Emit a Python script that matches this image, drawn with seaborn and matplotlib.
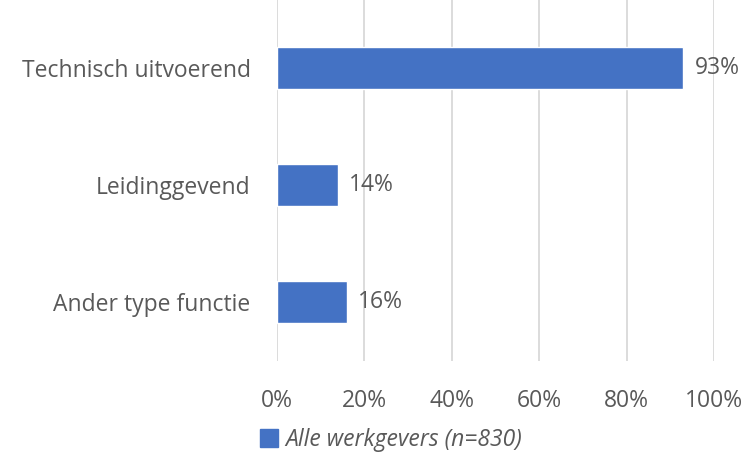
import matplotlib
matplotlib.use("Agg")
import matplotlib.pyplot as plt
import seaborn as sns
import pandas as pd
from matplotlib.patches import Patch
from matplotlib.ticker import FixedLocator

categories = ["Technisch uitvoerend", "Leidinggevend", "Ander type functie"]
values = [93, 14, 16]
value_labels = ["93%", "14%", "16%"]
xticks = [0, 20, 40, 60, 80, 100]
xtick_labels = ["0%", "20%", "40%", "60%", "80%", "100%"]
series_name = "Alle werkgevers (n=830)"

sns.set_theme(style="white")
plt.rcParams['font.family'] = ['Open Sans', 'DejaVu Sans']

blue = "#4472C4"
txt = "#595959"
fs = 16.5

df = pd.DataFrame({"cat": categories, "val": values})

fig = plt.figure(figsize=(7.52, 4.58), dpi=100)
ax = fig.add_axes([277/752, 1 - 361/458, (714-277)/752, 361/458])

sns.barplot(data=df, y="cat", x="val", orient="h", color=blue, width=0.36,
            saturation=1, ax=ax, zorder=3)

ax.set_xlim(0, 100)
ax.set_ylim(2.5, -0.58)
ax.xaxis.set_major_locator(FixedLocator(xticks))
ax.set_xticklabels(xtick_labels)
ax.grid(axis="x", color="#D9D9D9", linewidth=1.3, zorder=0)
ax.grid(axis="y", visible=False)
for s in ax.spines.values():
    s.set_visible(False)
ax.set_xlabel("")
ax.set_ylabel("")
ax.tick_params(axis="x", length=0, pad=20, labelsize=fs, labelcolor=txt)
ax.tick_params(axis="y", length=0, pad=19, labelsize=fs, labelcolor=txt)

ax.bar_label(ax.containers[0], labels=value_labels, padding=8, fontsize=fs, color=txt)

handle = Patch(facecolor=blue, edgecolor=blue)
fig.legend([handle], [series_name], loc="center", bbox_to_anchor=(0.52, 1 - 440/458),
           frameon=False, prop={"size": fs, "style": "italic"}, labelcolor=txt,
           handlelength=0.8, handleheight=0.8, handletextpad=0.3)

fig.savefig("out.png", dpi=100)
